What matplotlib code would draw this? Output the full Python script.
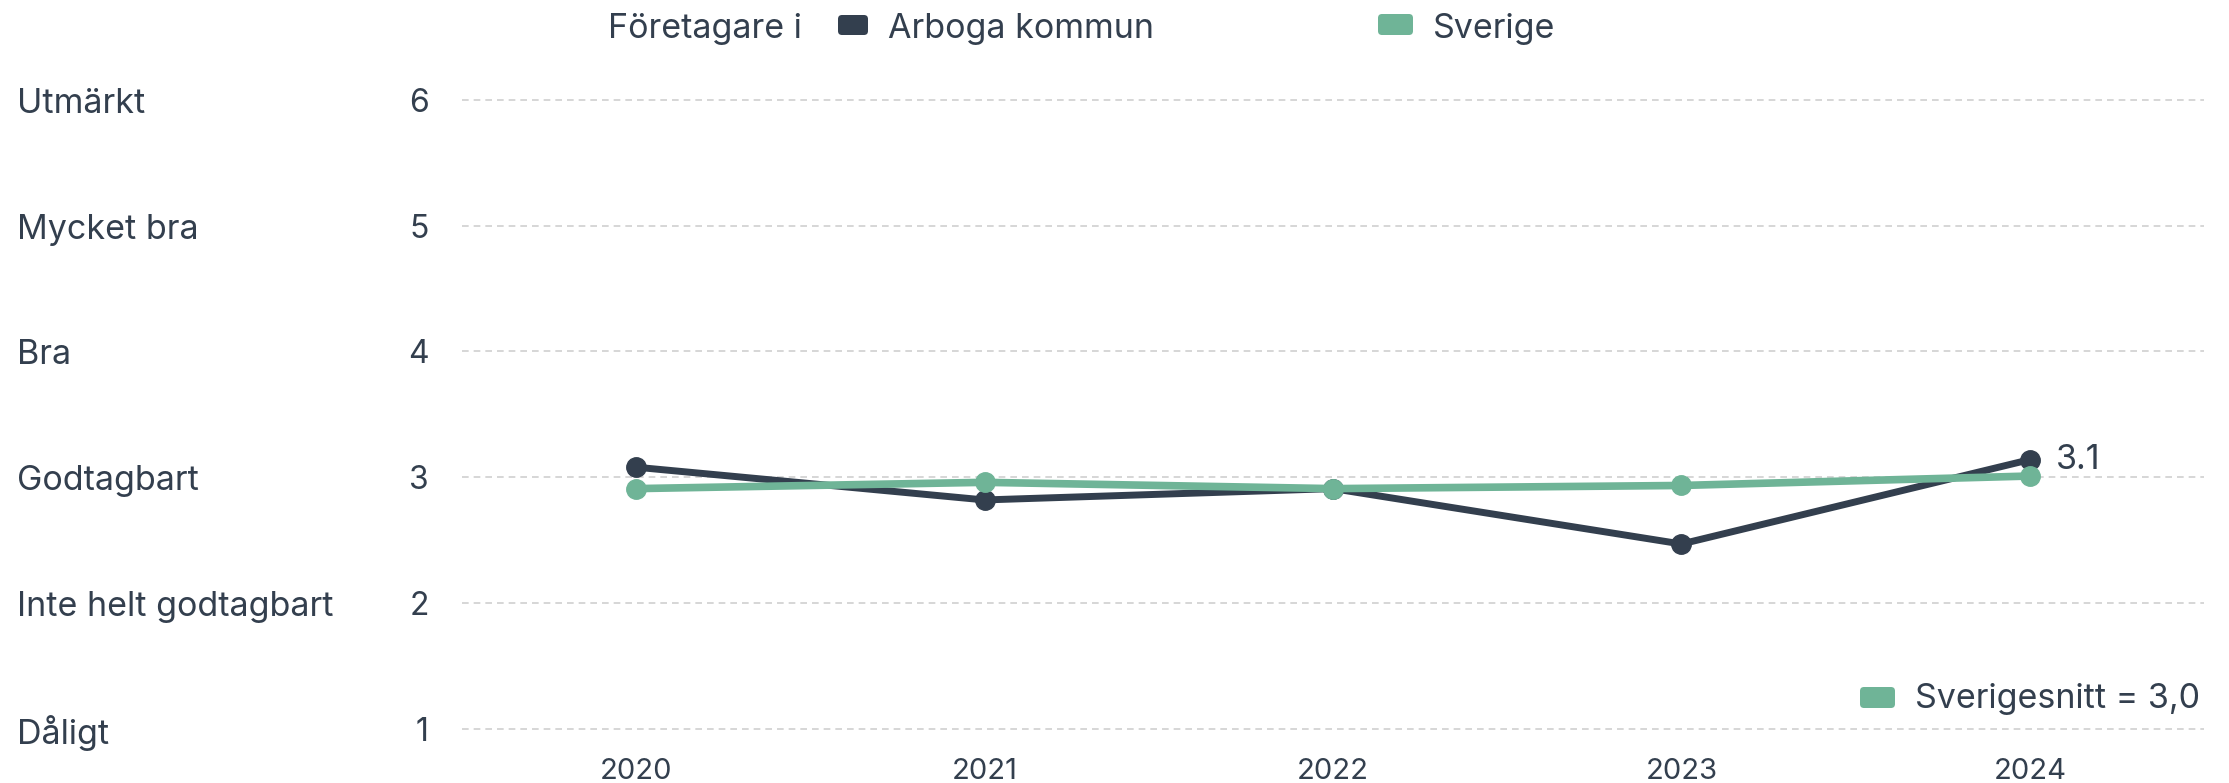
import matplotlib
matplotlib.use("Agg")
import matplotlib.pyplot as plt
import matplotlib.transforms as mtransforms
from matplotlib.patches import FancyBboxPatch

# data
years = [2020, 2021, 2022, 2023, 2024]
arboga = [3.08, 2.82, 2.91, 2.47, 3.14]
sverige = [2.91, 2.96, 2.91, 2.935, 3.01]
grade_ticks = [1, 2, 3, 4, 5, 6]
grade_labels = ["Dåligt", "Inte helt godtagbart", "Godtagbart", "Bra", "Mycket bra", "Utmärkt"]
last_label = "3.1"
avg_label = "Sverigesnitt = 3,0"

DARK = "#333f4e"
GREEN = "#6fb497"
TEXT = "#333f4e"
GRID = "#cfcfcf"
FS = 24.5

plt.rcParams['font.family'] = ['Inter', 'DejaVu Sans']

W, H = 2229, 783
fig = plt.figure(figsize=(W / 100, H / 100), dpi=100)
ax = fig.add_axes([462 / W, 0.0368, (2204 - 462) / W, 0.868])

ax.set_xlim(2019.5, 2024.5)
ax.set_ylim(0.8, 6.2)
for s in ax.spines.values():
    s.set_visible(False)

for g in grade_ticks:
    ax.axhline(g, color=GRID, linestyle=(0, (4, 3)), linewidth=1.2, zorder=0)

ax.plot(years, arboga, color=DARK, linewidth=5, marker='o', markersize=14,
        solid_capstyle='round', zorder=3)
ax.plot(years, sverige, color=GREEN, linewidth=5.5, marker='o', markersize=14,
        solid_capstyle='round', zorder=4)
ax.text(years[-1] + 0.075, arboga[-1], last_label, fontsize=FS, color=TEXT,
        va='center', ha='left')

ax.set_xticks(years)
ax.set_xticklabels([str(y) for y in years])
ax.set_yticks(grade_ticks)
ax.set_yticklabels([str(g) for g in grade_ticks])
ax.tick_params(axis='x', length=0, pad=3, labelsize=21, labelcolor=TEXT)
ax.tick_params(axis='y', length=0, pad=24, labelsize=23, labelcolor=TEXT)

# grade names at far left
trans = mtransforms.blended_transform_factory(fig.transFigure, ax.transData)
trans = trans + mtransforms.ScaledTranslation(0, -4 / 100, fig.dpi_scale_trans)
for g, lab in zip(grade_ticks, grade_labels):
    fig.text(17 / W, g, lab, transform=trans, fontsize=FS, color=TEXT,
             va='center', ha='left')


def box(x0, y0, w, h, color):
    # pixel coords from top-left
    p = FancyBboxPatch((x0, H - y0 - h), w, h,
                       boxstyle="round,pad=0,rounding_size=4",
                       transform=mtransforms.IdentityTransform(),
                       facecolor=color, edgecolor='none')
    fig.add_artist(p)


# top legend
ty = 1 - 29 / H
fig.text(608 / W, ty, "Företagare i", fontsize=FS, color=TEXT, va='center')
box(838, 15, 30, 20, DARK)
fig.text(888 / W, ty, "Arboga kommun", fontsize=FS, color=TEXT, va='center')
box(1378, 14, 35, 21, GREEN)
fig.text(1433 / W, ty, "Sverige", fontsize=FS, color=TEXT, va='center')

# bottom right average legend
box(1860, 687, 35, 21, GREEN)
fig.text(1915 / W, 1 - 699 / H, avg_label, fontsize=FS, color=TEXT, va='center')

fig.savefig("out.png", dpi=100)
